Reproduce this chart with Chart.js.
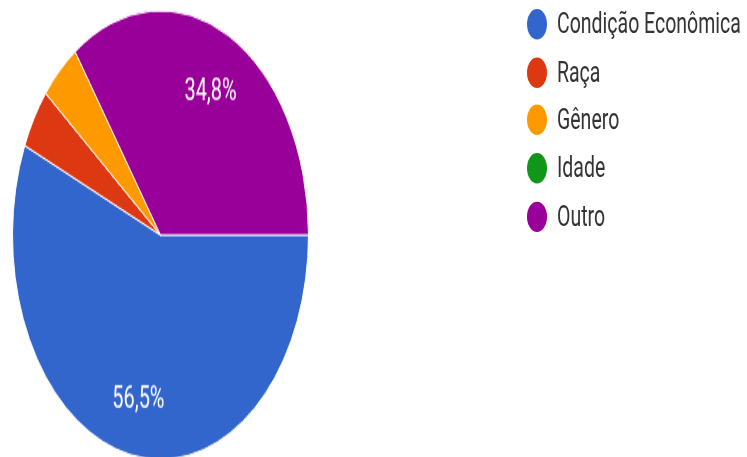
<!DOCTYPE html>
<html>
<head>
<meta charset="utf-8">
<script src="https://cdn.jsdelivr.net/npm/chart.js@4"></script>
<style>
  body { margin: 0; background: #fff; overflow: hidden; }
  #frame { width: 747px; height: 457px; overflow: hidden; }
  #wrap { position: relative; width: 747px; height: 304px; transform: scaleY(1.516); transform-origin: 0 0; }
  #pie { position: absolute; left: 0; top: 0; }
  #legend { position: absolute; left: 527px; top: 6px; font-family: Roboto, sans-serif; font-size: 19.5px; color: #333; }
  #legend div { height: 31.7px; display: flex; align-items: flex-start; }
  #legend span.dot { width: 20px; height: 20px; border-radius: 50%; display: inline-block; margin-right: 10px; }
  #legend span.txt { line-height: 20px; }
</style>
</head>
<body>
<div id="frame">
  <div id="wrap">
    <canvas id="pie" width="747" height="304"></canvas>
    <div id="legend"></div>
  </div>
</div>
<script>
var labels = ["Condição Econômica", "Raça", "Gênero", "Idade", "Outro"];
var answers = [13, 1, 1, 0, 8];
var colors = ["#3366cc", "#dc3912", "#ff9900", "#109618", "#990099"];

// legend on the right
var legend = document.getElementById("legend");
for (var i = 0; i < labels.length; i++) {
  var row = document.createElement("div");
  row.innerHTML = '<span class="dot" style="background:' + colors[i] + '"></span><span class="txt">' + labels[i] + '</span>';
  legend.appendChild(row);
}

// percentage text inside the big slices
var sliceLabels = {
  id: "sliceLabels",
  afterDatasetsDraw: function(chart) {
    var ctx = chart.ctx;
    var meta = chart.getDatasetMeta(0);
    var data = chart.data.datasets[0].data;
    var total = 0;
    for (var i = 0; i < data.length; i++) total += data[i];
    ctx.save();
    ctx.fillStyle = "#fff";
    ctx.font = "20px Roboto, sans-serif";
    ctx.textAlign = "center";
    ctx.textBaseline = "middle";
    meta.data.forEach(function(arc, i) {
      var pct = data[i] / total * 100;
      if (pct < 5) return;
      var p = arc.getProps(["x", "y", "startAngle", "endAngle", "outerRadius"], true);
      var mid = (p.startAngle + p.endAngle) / 2;
      var r = p.outerRadius * 0.735;
      // +2.5 so the digits sit centred rather than the em box
      ctx.fillText(pct.toFixed(1).replace(".", ",") + "%", p.x + Math.cos(mid) * r, p.y + Math.sin(mid) * r + 2.5);
    });
    ctx.restore();
  }
};

var chart = new Chart(document.getElementById("pie"), {
  type: "pie",
  data: {
    labels: labels,
    datasets: [{
      data: answers,
      backgroundColor: colors,
      borderColor: "#fff",
      borderWidth: 1
    }]
  },
  options: {
    responsive: false,
    animation: false,
    rotation: 90,
    layout: { padding: { left: 12, right: 438, top: 6, bottom: 0 } },
    plugins: {
      legend: { display: false },
      tooltip: { enabled: false }
    }
  },
  plugins: [sliceLabels]
});
</script>
</body>
</html>
